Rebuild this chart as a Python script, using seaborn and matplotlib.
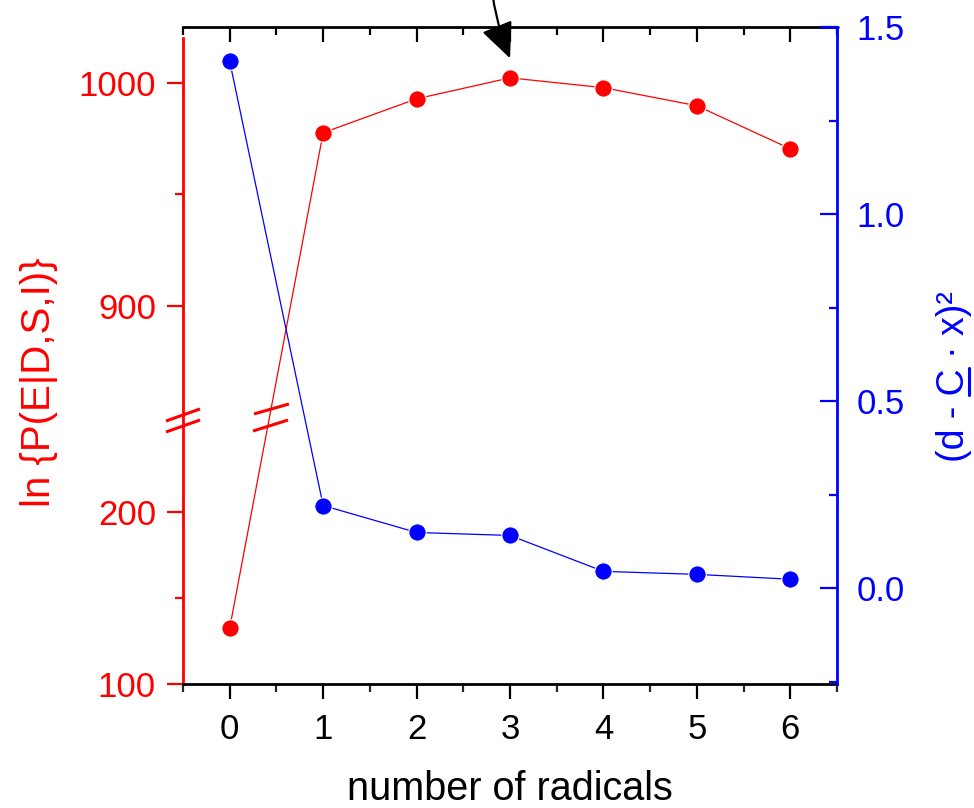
import numpy as np
import pandas as pd
import matplotlib
matplotlib.use("Agg")
import matplotlib.pyplot as plt
from matplotlib.lines import Line2D
from matplotlib.ticker import FixedLocator, MultipleLocator
import seaborn as sns

# ---------------- data ----------------
n_radicals = [0, 1, 2, 3, 4, 5, 6]
ln_evidence = [132.6, 977.6, 992.8, 1002.2, 997.8, 989.7, 970.4]
residual = [1.408, 0.221, 0.149, 0.141, 0.045, 0.037, 0.024]
left_major = [100, 200, 900, 1000]
left_minor = [150, 950]
right_major = [0.0, 0.5, 1.0, 1.5]

sns.set_theme(style="ticks")
plt.rcParams["font.family"] = ["Liberation Sans", "DejaVu Sans"]

RED = "#ff0000"
BLUE = "#0000ff"
W_PX, H_PX = 974, 808

df = pd.DataFrame({"n": n_radicals, "lnP": ln_evidence, "res": residual})

# broken-axis piecewise linear scale for the left axis
_xp = np.array([-1e5, 100.0, 253.5, 848.9, 1000.0, 1e5])
_fp = np.array([(-1e5 - 100) * 1.72, 0.0, 263.9, 264.1, 264.1 + 151.1 * 2.23,
                264.1 + (1e5 - 848.9) * 2.23])


def fwd(v):
    return np.interp(np.asarray(v, dtype=float), _xp, _fp)


def inv(p):
    return np.interp(np.asarray(p, dtype=float), _fp, _xp)


fig = plt.figure(figsize=(9.74, 8.08), dpi=100)
ax = fig.add_axes([0.18789, 0.15347, 0.67146, 0.81312])
ax.set_yscale("function", functions=(fwd, inv))
ax2 = ax.twinx()

sns.lineplot(data=df, x="n", y="lnP", ax=ax, color=RED, marker="o", markersize=12.5,
             markeredgecolor="white", markeredgewidth=0.8, linewidth=0.9, sort=False,
             zorder=3)
sns.lineplot(data=df, x="n", y="res", ax=ax2, color=BLUE, marker="o", markersize=12.5,
             markeredgecolor="white", markeredgewidth=0.8, linewidth=0.9, sort=False,
             zorder=3)

ax.set_xlim(-0.5, 6.5)
ax.set_ylim(100, 1025)
ax2.set_ylim(-0.256, 1.5)

ax.set_xlabel("")
ax.set_ylabel("")
ax2.set_ylabel("")

# spines
for s in ["left", "right", "top", "bottom"]:
    ax.spines[s].set_linewidth(2)
    ax2.spines[s].set_linewidth(2)
ax.spines["left"].set_color(RED)
ax.spines["left"].set_bounds(100, 1020)
ax.spines["right"].set_visible(False)
ax.spines["bottom"].set_color("black")
ax.spines["top"].set_color("black")
ax2.spines["left"].set_visible(False)
ax2.spines["top"].set_visible(False)
ax2.spines["bottom"].set_visible(False)
ax2.spines["right"].set_color(BLUE)

# x ticks (bottom: outward with labels)
ax.xaxis.set_major_locator(FixedLocator(n_radicals))
ax.xaxis.set_minor_locator(MultipleLocator(0.5))
ax.tick_params(axis="x", which="major", direction="out", length=11, width=1.6,
               labelsize=25, pad=10, colors="black", top=False)
ax.tick_params(axis="x", which="minor", direction="out", length=6, width=1.6, top=False)

# top mirror ticks (inward)
sec = ax.secondary_xaxis("top")
sec.xaxis.set_major_locator(FixedLocator(n_radicals))
sec.xaxis.set_minor_locator(MultipleLocator(0.5))
sec.tick_params(axis="x", which="major", direction="in", length=11, width=1.6,
                labeltop=False, colors="black")
sec.tick_params(axis="x", which="minor", direction="in", length=6, width=1.6,
                colors="black")
sec.spines["top"].set_visible(False)

# left ticks
ax.yaxis.set_major_locator(FixedLocator(left_major))
ax.yaxis.set_minor_locator(FixedLocator(left_minor))
ax.set_yticklabels([str(v) for v in left_major])
ax.tick_params(axis="y", which="major", direction="out", length=11.5, width=1.6,
               labelsize=25, pad=8, colors=RED)
ax.tick_params(axis="y", which="minor", direction="out", length=6, width=1.6, colors=RED)

# right ticks
ax2.yaxis.set_major_locator(FixedLocator(right_major))
ax2.yaxis.set_minor_locator(MultipleLocator(0.25))
ax2.set_yticklabels([f"{v:.1f}" for v in right_major])
ax2.tick_params(axis="y", which="major", direction="in", length=12, width=1.6,
                labelsize=25, pad=14, colors=BLUE)
ax2.tick_params(axis="y", which="minor", direction="in", length=6, width=1.6, colors=BLUE)

# small blue cap of the right axis at the top-right corner
fig.add_artist(Line2D([822 / W_PX, 838 / W_PX], [1 - 27 / H_PX, 1 - 27 / H_PX],
                      transform=fig.transFigure, color=BLUE, lw=2, zorder=6))

# axis break marks on the left spine and on the red line
for (x0, y0, x1, y1) in [(-0.026, 0.4003, 0.026, 0.4186), (-0.026, 0.3836, 0.026, 0.4018),
                         (0.1086, 0.4110, 0.1620, 0.4262), (0.1070, 0.3850, 0.1606, 0.4018)]:
    ax.plot([x0, x1], [y0, y1], transform=ax.transAxes, color=RED, lw=2.2,
            clip_on=False, solid_capstyle="butt", zorder=5)

# arrow pointing at the maximum
ax.annotate("", xy=(3, 1011), xytext=(490, H_PX + 28), textcoords="figure pixels",
            arrowprops=dict(arrowstyle="-|>,head_length=1.1,head_width=0.5",
                            connectionstyle="arc3,rad=0.08", color="black", lw=1.6,
                            mutation_scale=20, shrinkA=0, shrinkB=0),
            annotation_clip=False)

# axis titles
fig.text(509.5 / W_PX, 1 - 800 / H_PX, "number of radicals", fontsize=28.5,
         ha="center", va="baseline", color="black")
fig.text(50 / W_PX, 1 - 382.5 / H_PX, "ln {P(E|D,S,I)}", fontsize=29, rotation=90,
         rotation_mode="anchor", ha="center", va="baseline", color=RED)

# right title with underlined C
RFS = 27
renderer = fig.canvas.get_renderer()


def text_w(s):
    t = fig.text(0, 0, s, fontsize=RFS)
    w = t.get_window_extent(renderer).width
    t.remove()
    return w


right_title = "(d - C · x)²"
w_full = text_w(right_title)
w_pre = text_w("(d - C") - text_w("C")
w_c = text_w("C")
bx = 964.0                       # baseline x (pixels)
cy = H_PX - 376.5                # centre y (display pixels)
by0 = cy - w_full / 2
fig.text(bx / W_PX, by0 / H_PX, right_title, fontsize=RFS, rotation=90,
         rotation_mode="anchor", ha="left", va="baseline", color=BLUE)
fig.add_artist(Line2D([(bx + 5) / W_PX] * 2,
                      [(by0 + w_pre) / H_PX, (by0 + w_pre + w_c) / H_PX],
                      transform=fig.transFigure, color=BLUE, lw=2.2))

fig.savefig("out.png", dpi=100)
